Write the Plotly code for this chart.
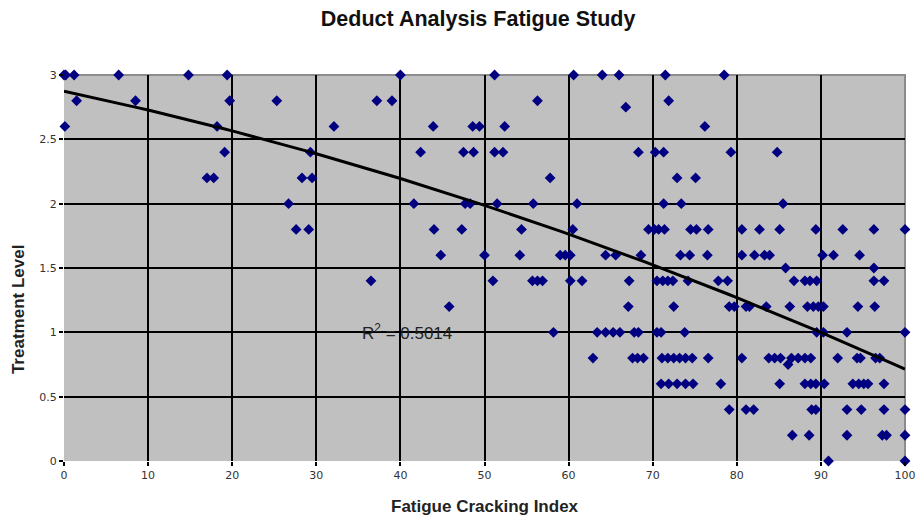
import numpy as np
import plotly.graph_objects as go

# ---- data ----
lvl_30 = [0, 0.2, 1.2, 6.5, 14.8, 19.4, 40.0, 51.2, 60.6, 64.0, 66.0, 71.5, 78.5]
lvl_28 = [1.5, 8.5, 19.7, 25.3, 37.2, 39.0, 56.3, 71.9]
lvl_275 = [66.8]
lvl_26 = [0.1, 18.2, 32.1, 43.9, 48.6, 49.4, 52.4, 76.2]
lvl_24 = [19.1, 29.3, 42.4, 47.5, 48.7, 51.2, 52.2, 68.3, 70.3, 71.3, 79.3, 84.8]
lvl_22 = [17.0, 17.8, 28.3, 29.5, 57.8, 72.9, 75.1]
lvl_20 = [26.7, 41.6, 47.7, 48.3, 51.5, 55.8, 61.0, 71.3, 73.4, 85.5]
lvl_18 = [27.6, 29.1, 44.0, 47.3, 54.4, 60.5, 69.5, 70.2, 70.7, 71.4, 74.5, 75.2,
          76.6, 80.6, 82.7, 85.1, 89.4, 92.6, 96.3, 100]
lvl_16 = [44.8, 50.0, 54.2, 59.0, 59.6, 60.2, 64.4, 65.6, 68.6, 73.3, 74.4, 76.5,
          80.6, 82.1, 83.3, 83.9, 90.2, 91.5, 94.6]
lvl_15 = [85.8, 96.3]
lvl_14 = [36.5, 51.0, 55.7, 56.3, 56.9, 60.2, 61.6, 67.2, 70.5, 71.2, 71.8, 72.4,
          74.2, 77.8, 78.9, 86.8, 88.1, 88.7, 89.5, 96.3, 97.5]
lvl_12 = [45.8, 67.1, 72.5, 79.1, 79.7, 81.1, 81.5, 83.5, 86.3, 88.4, 89.1, 89.7,
          90.3, 94.4, 96.4]
lvl_10 = [58.2, 63.4, 64.4, 65.3, 66.1, 67.8, 68.3, 70.5, 71.0, 73.8, 89.5, 90.3,
          93.1, 100]
lvl_08 = [62.9, 67.6, 68.2, 68.9, 71.1, 71.8, 72.5, 73.2, 73.9, 74.7, 76.6, 80.6,
          83.8, 84.5, 85.2, 86.5, 87.3, 88.1, 88.8, 92.0, 94.3, 94.7, 96.5, 97.0]
lvl_075 = [86.1]
lvl_06 = [71.0, 71.9, 72.9, 73.9, 74.8, 78.1, 85.1, 88.1, 88.8, 89.4, 90.4, 93.8,
          94.5, 95.1, 95.6, 97.5]
lvl_04 = [79.1, 81.1, 82.0, 88.9, 89.4, 93.1, 94.8, 97.5, 100]
lvl_02 = [86.6, 88.6, 93.1, 97.3, 97.8, 100]
lvl_00 = [90.9, 100]

levels = [3.0, 2.8, 2.75, 2.6, 2.4, 2.2, 2.0, 1.8, 1.6, 1.5, 1.4, 1.2, 1.0, 0.8,
          0.75, 0.6, 0.4, 0.2, 0.0]
groups = [lvl_30, lvl_28, lvl_275, lvl_26, lvl_24, lvl_22, lvl_20, lvl_18, lvl_16,
          lvl_15, lvl_14, lvl_12, lvl_10, lvl_08, lvl_075, lvl_06, lvl_04, lvl_02,
          lvl_00]

fatigue_index = [x for g in groups for x in g]
treatment_level = [lv for lv, g in zip(levels, groups) for _ in g]

x_ticks = [0, 10, 20, 30, 40, 50, 60, 70, 80, 90, 100]
y_ticks = [0, 0.5, 1, 1.5, 2, 2.5, 3]
r2_label = "R<sup>2</sup> = 0.5014"

# 2nd-order polynomial trend line fitted to the data (as the original chart does)
coef = np.polyfit(fatigue_index, treatment_level, 2)
trend_x = np.linspace(0, 100, 101)
trend_y = np.polyval(coef, trend_x)

fig = go.Figure()
fig.add_trace(go.Scatter(
    x=fatigue_index, y=treatment_level, mode="markers",
    marker=dict(symbol="diamond", size=8.3, color="#000080", line=dict(width=0)),
    cliponaxis=False, showlegend=False))
fig.add_trace(go.Scatter(
    x=trend_x, y=trend_y, mode="lines",
    line=dict(color="black", width=3), showlegend=False))

fig.update_layout(
    width=916, height=518,
    margin=dict(l=64, r=11, t=75, b=57, autoexpand=False),
    paper_bgcolor="white", plot_bgcolor="#C0C0C0",
    title=dict(text="<b>Deduct Analysis Fatigue Study</b>",
               x=0.522, xanchor="center", y=1 - 18 / 518, yanchor="middle",
               font=dict(family="Liberation Sans, Arial", size=21.5, color="#111")),
    font=dict(family="DejaVu Sans", size=11, color="#333"),
    shapes=[dict(type="path", xref="paper", yref="paper",
                 path="M 0 1 L 1 1 L 1 0", line=dict(color="#8c8c8c", width=2),
                 layer="between")],
    annotations=[
        dict(text="<b>Fatigue Cracking Index</b>", xref="paper", yref="paper",
             x=0.5, y=0, yshift=-45, xanchor="center", yanchor="middle",
             showarrow=False,
             font=dict(family="Liberation Sans, Arial", size=17, color="#222")),
        dict(text="<b>Treatment Level</b>", xref="paper", yref="paper",
             x=0, y=0.391, xshift=-46, textangle=-90, xanchor="center",
             yanchor="middle", showarrow=False,
             font=dict(family="Liberation Sans, Arial", size=17, color="#222")),
        dict(text=r2_label, x=35.2, y=1.0, xref="x", yref="y",
             xanchor="left", yanchor="middle", showarrow=False,
             font=dict(family="Liberation Sans, Arial", size=17, color="#222")),
    ],
)
fig.update_xaxes(range=[0, 100], tickvals=x_ticks, ticktext=[str(v) for v in x_ticks],
                 showgrid=True, gridcolor="black", gridwidth=1.5, zeroline=False,
                 showline=False, ticks="outside", ticklen=4, tickcolor="black",
                 tickwidth=1.5, fixedrange=True, automargin=False)
fig.update_yaxes(range=[0, 3], tickvals=y_ticks, ticktext=[str(v) for v in y_ticks],
                 showgrid=True, gridcolor="black", gridwidth=1.5, zeroline=False,
                 showline=False, ticks="outside", ticklen=4, tickcolor="black",
                 tickwidth=1.5, fixedrange=True, automargin=False)

fig.write_html("out.html")
